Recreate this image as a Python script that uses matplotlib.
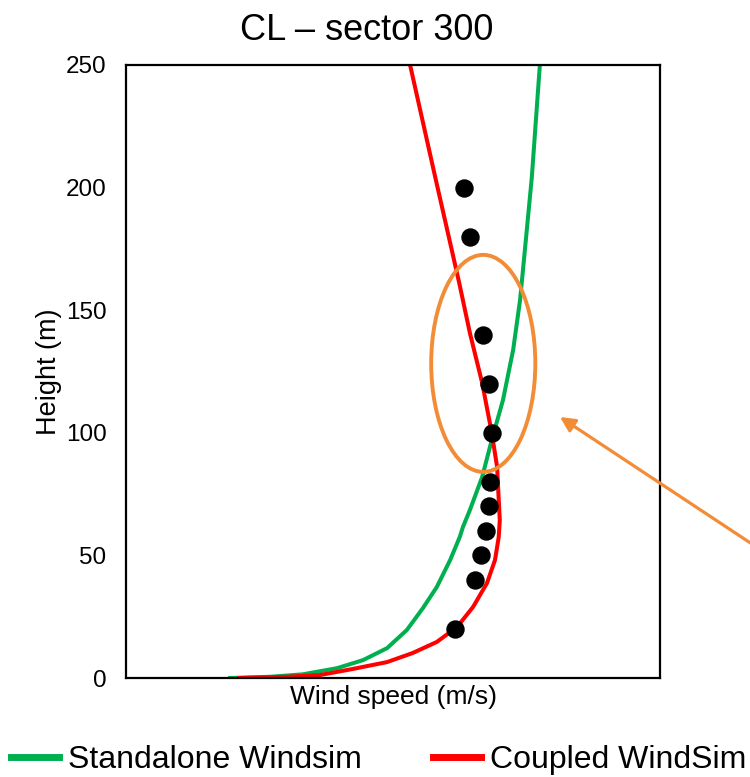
import matplotlib.pyplot as plt
from matplotlib.patches import Ellipse
from matplotlib.lines import Line2D

plt.rcParams['font.family'] = ['Liberation Sans', 'DejaVu Sans']

# measured profile (height in m, wind speed in m/s)
meas_h = [200, 180, 140, 120, 100, 80, 70, 60, 50, 40, 20]
meas_u = [6.33, 6.44, 6.69, 6.80, 6.85, 6.82, 6.80, 6.74, 6.65, 6.54, 6.16]

# standalone WindSim profile
sa_h = [0, 0.5, 1.5, 4.0, 7.3, 12.2, 19.6, 28.5, 37.1, 48.1, 57.5, 61.6, 68.5, 82.0,
        97.1, 113.4, 133.8, 154.2, 174.6, 204.3, 250]
sa_u = [1.95, 2.70, 3.31, 3.95, 4.44, 4.89, 5.26, 5.56, 5.82, 6.07, 6.25, 6.31, 6.44, 6.67,
        6.85, 7.06, 7.25, 7.38, 7.47, 7.60, 7.75]

# coupled WindSim profile
cp_h = [0, 0.5, 1.2, 3.7, 6.5, 10.2, 14.7, 20.8, 29.0, 38.7, 48.1, 57.5, 64.4, 72.6,
        86.0, 99.9, 120.3, 140.7, 161.1, 174.6, 204.3, 250]
cp_u = [2.13, 3.01, 3.63, 4.25, 4.89, 5.37, 5.82, 6.20, 6.50, 6.76, 6.91, 6.98, 7.00, 6.98,
        6.95, 6.85, 6.67, 6.44, 6.24, 6.10, 5.79, 5.32]

yticks = [0, 50, 100, 150, 200, 250]

green = '#00B050'
red = '#FF0000'
orange = '#F28C36'

fig = plt.figure(figsize=(7.5, 7.77), dpi=100)
ax = fig.add_axes([0.168, 0.1274, 0.712, 0.789])

ax.plot(sa_u, sa_h, color=green, lw=2.9, solid_joinstyle='round')
ax.plot(cp_u, cp_h, color=red, lw=2.9, solid_joinstyle='round')
ax.scatter(meas_u, meas_h, s=150, color='black', zorder=3)

# highlight of the crossing region
ax.add_patch(Ellipse((6.69, 128.3), 1.95, 88.5, fill=False, edgecolor=orange, lw=2.8, zorder=4))

ax.set_xlim(0, 10)
ax.set_ylim(0, 250)
ax.set_xticks([])
ax.set_yticks(yticks)
ax.tick_params(axis='y', length=0, pad=14, labelsize=17.5)
for sp in ax.spines.values():
    sp.set_linewidth(1.6)
    sp.set_color('black')

ax.set_xlabel('Wind speed (m/s)', fontsize=19, labelpad=5)
ax.set_ylabel('Height (m)', fontsize=19.5, labelpad=3)
fig.text(367 / 750, 1 - 30 / 777, 'CL – sector 300', fontsize=26, ha='center', va='center')

# arrow pointing at the circled region
ax.annotate('', xy=(560 / 750, 1 - 417 / 777), xycoords='figure fraction',
            xytext=(820 / 750, 1 - 589 / 777), textcoords='figure fraction',
            arrowprops=dict(arrowstyle='-|>', color=orange, lw=2.3, mutation_scale=22,
                            shrinkA=0, shrinkB=0),
            annotation_clip=False)

handles = [Line2D([], [], color=green, lw=5), Line2D([], [], color=red, lw=5)]
fig.legend(handles, ['Standalone Windsim', 'Coupled WindSim'], loc='center',
           bbox_to_anchor=(0.505, 0.022), ncol=2, frameon=False, fontsize=23,
           handlelength=1.5, handletextpad=0.31, columnspacing=2.2, borderpad=0)

fig.savefig('out.png', dpi=100)
